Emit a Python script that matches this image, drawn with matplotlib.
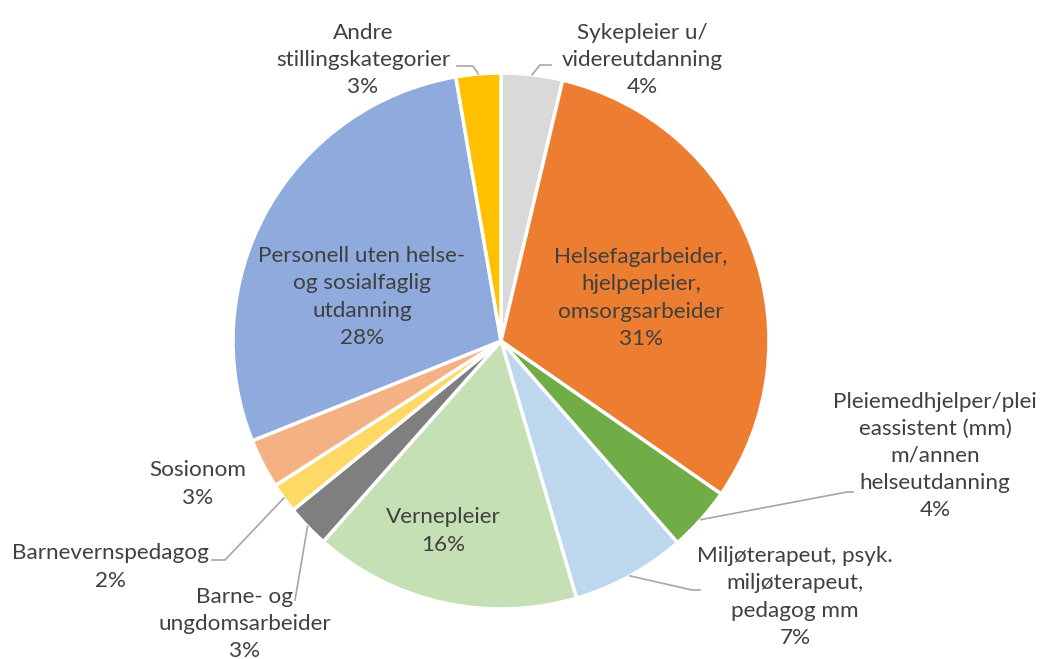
import numpy as np
import matplotlib
matplotlib.use('Agg')
import matplotlib.pyplot as plt

# share per stillingskategori (%), clockwise from 12 o'clock
categories = [
    'Sykepleier u/\nvidereutdanning',
    'Helsefagarbeider,\nhjelpepleier,\nomsorgsarbeider',
    'Pleiemedhjelper/plei\neassistent (mm)\nm/annen\nhelseutdanning',
    'Miljøterapeut, psyk.\nmiljøterapeut,\npedagog mm',
    'Vernepleier',
    'Barne- og\nungdomsarbeider',
    'Barnevernspedagog',
    'Sosionom',
    'Personell uten helse-\nog sosialfaglig\nutdanning',
    'Andre\nstillingskategorier',
]
values = [3.7, 31.0, 3.9, 6.9, 16.1, 2.6, 1.8, 3.0, 28.4, 2.7]
colors = ['#D9D9D9', '#ED7D31', '#70AD47', '#BDD7EE', '#C5E0B4',
          '#7F7F7F', '#FFD966', '#F4B183', '#8FAADC', '#FFC000']

W, H = 1040, 659
CX, CY, R = 501, H - 341, 268
TEXT = '#404040'
LEAD = '#A6A6A6'

# label centre (pixels, top-left origin) and leader elbow/end
label_pos = [(642, 60), (641, 298), (935, 456), (795, 597), (443, 531),
             (245, 624), (110, 567), (198, 484), (362, 297), (363, 60)]
leaders = {
    0: [(540, 65), (551, 65)],
    2: [(847, 492), (853, 492)],
    3: [(692, 590), (700, 590)],
    5: [(295, 600)],
    6: [(225, 560), (212, 560)],
    9: [(473, 66), (457, 66)],
}

plt.rcParams['font.family'] = ['Lato', 'DejaVu Sans']

fig = plt.figure(figsize=(W / 100, H / 100), dpi=100)
ax = fig.add_axes([0, 0, 1, 1])
ax.pie(values, colors=colors, startangle=90, counterclock=False,
       center=(CX, CY), radius=R,
       wedgeprops=dict(edgecolor='white', linewidth=2.5))
ax.set_xlim(0, W)
ax.set_ylim(0, H)
ax.set_aspect('equal')
ax.axis('off')

total = sum(values)
cum = np.cumsum([0] + values) / total
for i, (name, v) in enumerate(zip(categories, values)):
    pct = round(100 * v / total)
    x, y = label_pos[i]
    ax.text(x, H - y, f'{name}\n{pct}%', ha='center', va='center',
            fontsize=16.2, color=TEXT, linespacing=1.45)
    if i in leaders:
        mid = (cum[i] + cum[i + 1]) / 2 * 2 * np.pi
        sx = CX + R * np.sin(mid)
        sy = CY + R * np.cos(mid)
        pts = [(sx, sy)] + [(px, H - py) for px, py in leaders[i]]
        xs, ys = zip(*pts)
        ax.plot(xs, ys, color=LEAD, linewidth=1.2)

fig.savefig('out.png', dpi=100)
